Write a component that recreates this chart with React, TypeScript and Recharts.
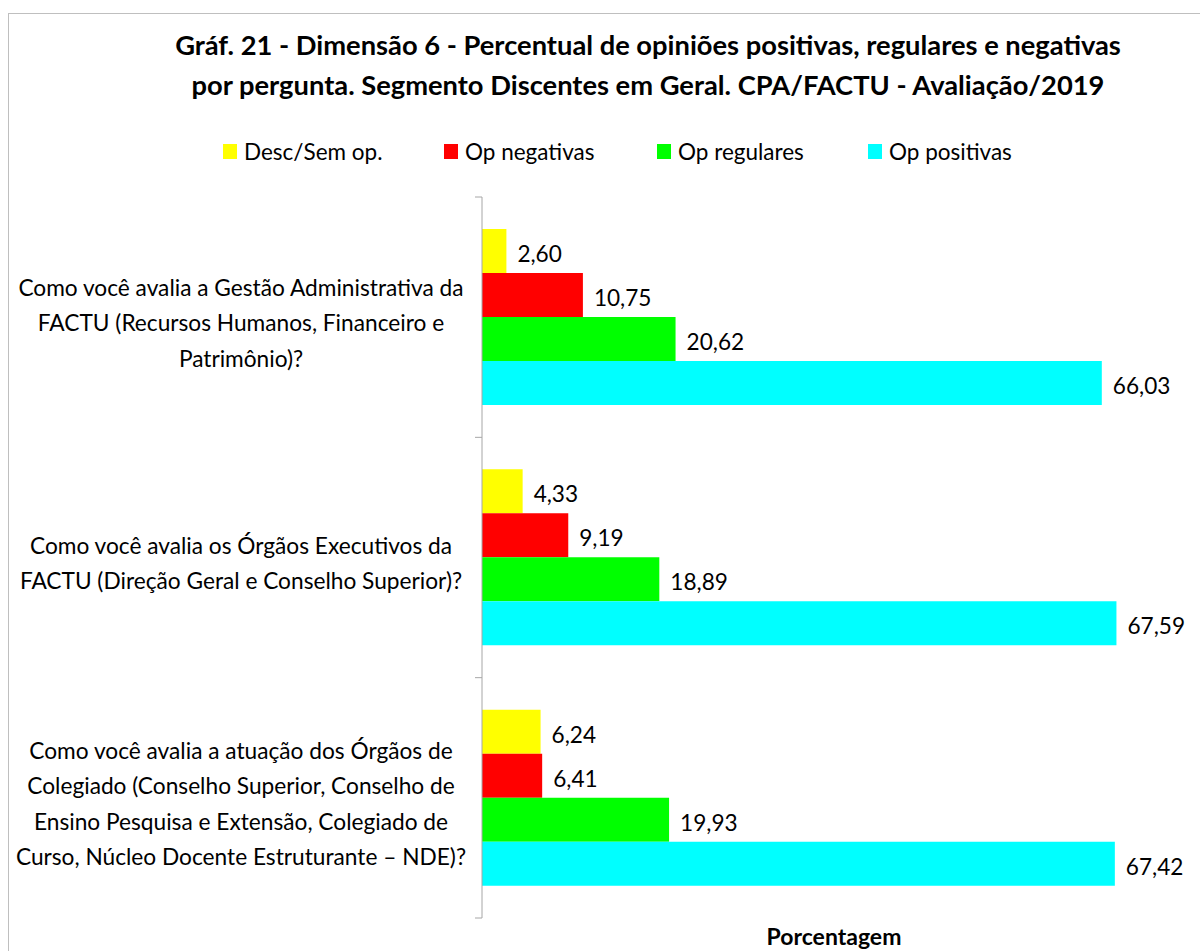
import { BarChart, Bar, XAxis, YAxis, Legend, LabelList } from 'recharts';

const questionLines = [
  ['Como você avalia a Gestão Administrativa da', 'FACTU (Recursos Humanos, Financeiro e', 'Patrimônio)?'],
  ['Como você avalia os Órgãos Executivos da', 'FACTU (Direção Geral e Conselho Superior)?'],
  ['Como você avalia a atuação dos Órgãos de', 'Colegiado (Conselho Superior, Conselho de', 'Ensino Pesquisa e Extensão, Colegiado de', 'Curso, Núcleo Docente Estruturante – NDE)?'],
];
const descSemOp = [2.6, 4.33, 6.24];
const opNegativas = [10.75, 9.19, 6.41];
const opRegulares = [20.62, 18.89, 19.93];
const opPositivas = [66.03, 67.59, 67.42];

const seriesKeys = ['desc', 'neg', 'reg', 'pos'];
const seriesNames = ['Desc/Sem op.', 'Op negativas', 'Op regulares', 'Op positivas'];
const seriesColors = ['#ffff00', '#ff0000', '#00ff00', '#00ffff'];
const legendWidths = [221, 213, 211, 160];

const data = questionLines.map((lines, i) => ({
  question: lines.join(' '),
  desc: descSemOp[i],
  neg: opNegativas[i],
  reg: opRegulares[i],
  pos: opPositivas[i],
}));

const FONT = 'Lato, "Open Sans", sans-serif';
const AXIS_GRAY = '#a6a6a6';

const fmt = (v: any) => Number(v).toFixed(2).replace('.', ',');

function QuestionTick(props: any) {
  const { y, payload, index } = props;
  const half = payload && payload.offset ? payload.offset : 120;
  const lines = questionLines[index] || [];
  const lh = 35.5;
  const startY = y + 6 - ((lines.length - 1) * lh) / 2;
  return (
    <g>
      <line x1={475} x2={482} y1={y - half} y2={y - half} stroke={AXIS_GRAY} />
      {index === questionLines.length - 1 && (
        <line x1={475} x2={482} y1={y + half} y2={y + half} stroke={AXIS_GRAY} />
      )}
      <text textAnchor="middle" fontSize={22.7} fill="#000" fontFamily={FONT}>
        {lines.map((l, i) => (
          <tspan key={i} x={241} y={startY + i * lh} dy="0.35em">
            {l}
          </tspan>
        ))}
      </text>
    </g>
  );
}

function LegendContent() {
  return (
    <div style={{ display: 'flex', paddingLeft: 223, fontFamily: FONT, fontSize: 22.5, color: '#000' }}>
      {seriesNames.map((name, i) => (
        <div key={name} style={{ width: legendWidths[i], display: 'flex', alignItems: 'center' }}>
          <span style={{ width: 14, height: 15, background: seriesColors[i], marginRight: 7, display: 'inline-block' }} />
          <span>{name}</span>
        </div>
      ))}
    </div>
  );
}

export default function App() {
  return (
    <div style={{ position: 'fixed', left: 0, top: 0, width: 1200, height: 951, overflow: 'hidden', background: '#fff', fontFamily: FONT }}>
      <div style={{ position: 'absolute', left: 8, top: 13, width: 1220, height: 1000, border: '1px solid #bfbfbf' }} />
      <div style={{ position: 'absolute', left: 98, width: 1100, top: 25, textAlign: 'center', fontWeight: 700, fontSize: 27.3, lineHeight: '40px', color: '#000' }}>
        <div>Gráf. 21 - Dimensão 6 - Percentual de opiniões positivas, regulares e negativas</div>
        <div>por pergunta. Segmento Discentes em Geral. CPA/FACTU - Avaliação/2019</div>
      </div>
      <div style={{ position: 'absolute', left: 0, top: 0 }}>
        <BarChart
          width={1200}
          height={951}
          data={data}
          layout="vertical"
          margin={{ top: 197, right: 14, bottom: 0, left: 0 }}
          barCategoryGap="13.3%"
          barGap={0}
        >
          <XAxis
            type="number"
            domain={[0, 75]}
            tick={false}
            axisLine={false}
            tickLine={false}
            height={33}
            label={{ value: 'Porcentagem', position: 'insideBottom', offset: 6, fontSize: 23, fontWeight: 700, fill: '#000', fontFamily: FONT }}
          />
          <YAxis
            type="category"
            dataKey="question"
            width={482}
            axisLine={{ stroke: AXIS_GRAY }}
            tickLine={false}
            tick={<QuestionTick />}
            interval={0}
          />
          <Legend
            verticalAlign="middle"
            align="center"
            content={<LegendContent />}
            wrapperStyle={{ top: 138, left: 0, width: 1200 }}
          />
          {seriesKeys.map((k, i) => (
            <Bar key={k} dataKey={k} name={seriesNames[i]} fill={seriesColors[i]} isAnimationActive={false}>
              <LabelList dataKey={k} position="right" offset={11} formatter={fmt} fill="#000" fontSize={22.6} fontFamily={FONT} dy={3} />
            </Bar>
          ))}
        </BarChart>
      </div>
    </div>
  );
}
